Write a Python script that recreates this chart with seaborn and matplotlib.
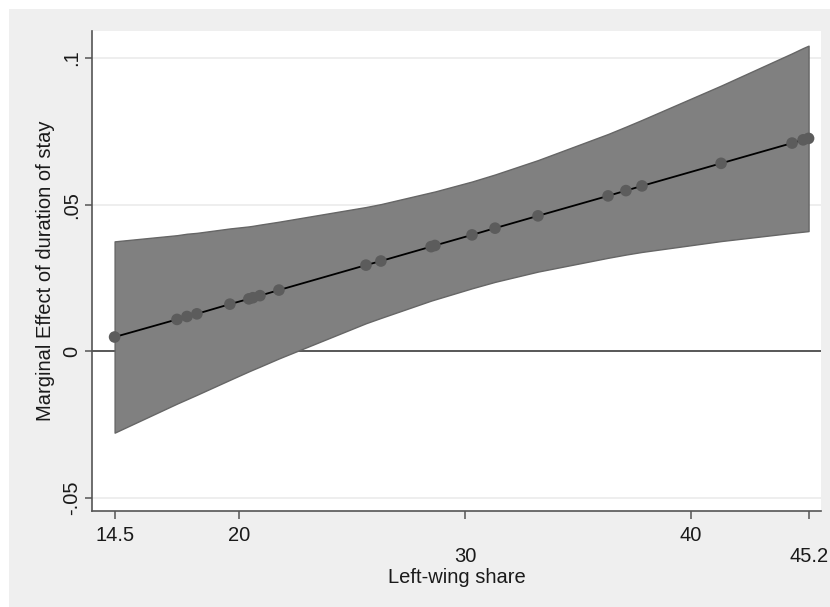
import matplotlib
matplotlib.use("Agg")
import matplotlib.pyplot as plt
from matplotlib.patches import Rectangle
import numpy as np
import pandas as pd
import seaborn as sns

# ---- data ----
left_share = [14.5, 17.26, 17.70, 18.14, 19.60, 20.44, 20.62, 20.93, 21.77,
              25.62, 26.28, 28.50, 28.67, 30.31, 31.33, 33.23, 36.33, 37.12,
              37.83, 41.33, 44.47, 44.96, 45.2]
marginal_effect = [0.0049, 0.0109, 0.0119, 0.0128, 0.0161, 0.0179, 0.0183, 0.0190,
                   0.0209, 0.0294, 0.0308, 0.0357, 0.0361, 0.0397, 0.0420, 0.0462,
                   0.0530, 0.0548, 0.0564, 0.0641, 0.0710, 0.0721, 0.0726]
ci_upper = [0.0375, 0.0396, 0.0401, 0.0404, 0.0419, 0.0426, 0.0428, 0.0432,
            0.0442, 0.0492, 0.0502, 0.0542, 0.0545, 0.0579, 0.0603, 0.0652,
            0.0741, 0.0766, 0.0789, 0.0906, 0.1016, 0.1034, 0.1042]
ci_lower = [-0.0277, -0.0178, -0.0163, -0.0148, -0.0097, -0.0068, -0.0062, -0.0052,
            -0.0024, 0.0096, 0.0114, 0.0173, 0.0177, 0.0215, 0.0237, 0.0272,
            0.0319, 0.0330, 0.0339, 0.0376, 0.0404, 0.0408, 0.0410]

x_row1_ticks = [14.5, 20, 40]
x_row1_labels = ["14.5", "20", "40"]
x_row2_ticks = [30, 45.2]
x_row2_labels = ["30", "45.2"]
y_ticks = [-0.05, 0, 0.05, 0.1]
y_labels = ["-.05", "0", ".05", ".1"]
x_title = "Left-wing share"
y_title = "Marginal Effect of duration of stay"

df = pd.DataFrame({"x": left_share, "me": marginal_effect,
                   "ub": ci_upper, "lb": ci_lower})

# ---- style ----
sns.set_theme(style="white")
plt.rcParams["font.family"] = ["Liberation Sans", "DejaVu Sans"]
FS = 14.5
TXT = "#1a1a1a"
AXC = "#555555"

W, H = 830, 607
fig = plt.figure(figsize=(W / 100, H / 100), dpi=100)
fig.patch.set_facecolor("white")
fig.patches.append(Rectangle((9 / W, 0), 1, 1 - 9 / H, transform=fig.transFigure,
                             facecolor="#efefef", edgecolor="none", zorder=-10))

ax = fig.add_axes([92 / W, 1 - 511 / H, 729 / W, 480 / H])
ax.set_facecolor("white")

# grid + zero line
for yv in y_ticks:
    if yv != 0:
        ax.axhline(yv, color="#e9e9e9", lw=1.1, zorder=0.5)
ax.axhline(0, color="#4a4a4a", lw=1.3, zorder=1)

# confidence band
ax.fill_between(df["x"], df["lb"], df["ub"], facecolor="#808080",
                edgecolor="#666666", lw=1.0, zorder=2)

# line and points
sns.lineplot(data=df, x="x", y="me", ax=ax, color="black", lw=1.3,
             zorder=3, sort=False)
sns.scatterplot(data=df, x="x", y="me", ax=ax, color="#5c5c5c", s=70,
                edgecolor="none", linewidth=0, zorder=4)

ax.set_xlim(13.5, 45.75)
ax.set_ylim(-0.0544, 0.1092)

# ticks
ax.set_xticks(x_row1_ticks, x_row1_labels)
ax.set_xticks(x_row2_ticks, x_row2_labels, minor=True)
ax.set_yticks(y_ticks, y_labels, rotation=90, va="center")
ax.tick_params(axis="x", which="both", bottom=True, length=5.5, width=1.1,
               color=AXC, labelsize=FS, labelcolor=TXT)
ax.tick_params(axis="x", which="major", pad=5.5)
ax.tick_params(axis="x", which="minor", pad=20.5)
ax.tick_params(axis="y", which="major", left=True, length=5, width=1.1,
               color=AXC, labelsize=FS, labelcolor=TXT, pad=3)

for side in ["top", "right"]:
    ax.spines[side].set_visible(False)
for side in ["left", "bottom"]:
    ax.spines[side].set_color(AXC)
    ax.spines[side].set_linewidth(1.2)

ax.set_xlabel(x_title, fontsize=FS, color=TXT)
ax.set_ylabel(y_title, fontsize=FS, color=TXT)
ax.xaxis.set_label_coords(0.5, -0.119)
ax.xaxis.label.set_va("top")
ax.yaxis.set_label_coords(-0.0508, 0.5)

fig.savefig("out.png", dpi=100)
